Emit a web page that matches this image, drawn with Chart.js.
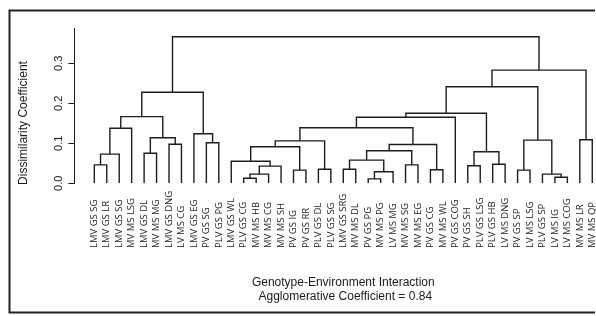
<!DOCTYPE html>
<html>
<head>
<meta charset="utf-8">
<script src="https://cdn.jsdelivr.net/npm/chart.js@4/dist/chart.umd.min.js"></script>
<style>
  html, body { margin: 0; padding: 0; background: #fff; }
</style>
</head>
<body>
<canvas id="chart" width="596" height="316"></canvas>
<script>
'use strict';

// leaves, left to right as they appear under the tree
var leafLabels = [
  'LMV GS SG', 'LMV GS LR', 'LMV GS SG', 'MV MS LSG', 'LMV GS DL', 'MV MS MG',
  'LMV GS DNG', 'LV MS CG', 'LMV GS EG', 'PV GS SG', 'PLV GS PG', 'LMV GS WL',
  'PLV GS CG', 'MV MS HB', 'MV MS CG', 'MV MS SH', 'PV GS IG', 'PV GS RR',
  'PLV GS DL', 'PLV GS SG', 'LMV GS SRG', 'MV MS DL', 'PV GS PG', 'MV MS PG',
  'LV MS MG', 'MV MS SG', 'MV MS EG', 'PV GS CG', 'MV MS WL', 'PV GS COG',
  'PV GS SH', 'PLV GS LSG', 'PLV GS HB', 'LV MS DNG', 'PV GS SP', 'LV MS LSG',
  'PLV GS SP', 'LV MS IG', 'LV MS COG', 'MV MS LR', 'MV MS QP'
];

// merge table like hclust: negative = leaf number, positive = earlier merge step
var merges = [
  [-13, -14], [-23, -24], [-38, -39], [1, -15], [-37, 3],
  [2, -25], [-17, -18], [-28, -29], [-35, -36], [-19, -20],
  [-21, -22], [4, -16], [-31, -32], [-1, -2], [-26, -27],
  [-33, -34], [-12, 12], [11, 6], [14, -3], [-5, -6],
  [13, 16], [18, 15], [17, 7], [22, 8], [-7, -8],
  [-10, -11], [23, 10], [9, 5], [-40, -41], [20, 25],
  [-9, 26], [19, -4], [27, 24], [33, -30], [32, 30],
  [34, 21], [35, 31], [36, 28], [38, 29], [37, 39]
];

var heights = [
  0.0125, 0.011, 0.015, 0.023, 0.023,
  0.029, 0.033, 0.034, 0.033, 0.035,
  0.035, 0.043, 0.044, 0.046, 0.046,
  0.0475, 0.055, 0.058, 0.073, 0.075,
  0.079, 0.0815, 0.0915, 0.097, 0.0975,
  0.1015, 0.106, 0.108, 0.109, 0.114,
  0.124, 0.1375, 0.139, 0.165, 0.1667,
  0.175, 0.2275, 0.2415, 0.283, 0.3665
];

var yTicks = [0, 0.1, 0.2, 0.3];
var yTitle = 'Dissimilarity Coefficient';
var xTitle = 'Genotype-Environment Interaction';
var subTitle = 'Agglomerative Coefficient = 0.84';

var lineColor = '#1c1c1c';
var textColor = '#1a1a1a';

function nodePos(ref, pos) {
  if (ref < 0) {
    return { x: -ref, y: 0 };
  }
  return pos[ref - 1];
}

function segments() {
  var pos = [];
  return merges.map(function(m, i) {
    var a = nodePos(m[0], pos);
    var b = nodePos(m[1], pos);
    var h = heights[i];
    pos.push({ x: (a.x + b.x) / 2, y: h });
    return [
      { x: a.x, y: a.y },
      { x: a.x, y: h },
      { x: b.x, y: h },
      { x: b.x, y: b.y }
    ];
  });
}

var labelsPlugin = {
  id: 'dendroText',
  afterDraw: function(chart) {
    var ctx = chart.ctx;
    var xs = chart.scales.x;
    var ys = chart.scales.y;
    ctx.save();
    ctx.fillStyle = textColor;

    // y tick labels, rotated like base R
    ctx.font = '11px "Liberation Sans", Arial, sans-serif';
    ctx.textAlign = 'center';
    ctx.textBaseline = 'middle';
    yTicks.forEach(function(v) {
      ctx.save();
      ctx.translate(58.5, ys.getPixelForValue(v));
      ctx.rotate(-Math.PI / 2);
      ctx.fillText(v.toFixed(1), 0, 0);
      ctx.restore();
    });

    ctx.font = '12px "Liberation Sans", Arial, sans-serif';
    ctx.save();
    ctx.translate(24, 123);
    ctx.rotate(-Math.PI / 2);
    ctx.fillText(yTitle, 0, 0);
    ctx.restore();

    // leaf labels, bottom aligned
    ctx.font = '9.5px "Open Sans", sans-serif';
    ctx.textAlign = 'left';
    leafLabels.forEach(function(lab, i) {
      ctx.save();
      ctx.translate(xs.getPixelForValue(i + 1), 248);
      ctx.rotate(-Math.PI / 2);
      ctx.fillText(lab, 0, 0);
      ctx.restore();
    });

    var cx = xs.getPixelForValue((leafLabels.length + 1) / 2);
    ctx.font = '12px "Liberation Sans", Arial, sans-serif';
    ctx.textAlign = 'center';
    ctx.fillText(xTitle, cx, 282.5);
    ctx.fillText(subTitle, cx + 2, 297);

    // outer frame
    ctx.strokeStyle = '#222';
    ctx.lineWidth = 2;
    ctx.beginPath();
    ctx.moveTo(595, 10.5);
    ctx.lineTo(9.5, 10.5);
    ctx.lineTo(9.5, 312.5);
    ctx.lineTo(595, 312.5);
    ctx.stroke();
    ctx.restore();
  }
};

var chart = new Chart(document.getElementById('chart').getContext('2d'), {
  type: 'scatter',
  data: {
    datasets: segments().map(function(s) {
      return {
        data: s,
        showLine: true,
        borderColor: lineColor,
        borderWidth: 1.4,
        pointRadius: 0,
        tension: 0,
        fill: false
      };
    })
  },
  options: {
    responsive: false,
    animation: false,
    layout: { padding: { top: 28.3, left: 0, right: 0, bottom: 0 } },
    plugins: {
      legend: { display: false },
      tooltip: { enabled: false }
    },
    scales: {
      x: {
        type: 'linear',
        min: -0.6,
        max: 41.3,
        grid: { display: false },
        border: { display: false },
        ticks: { display: false },
        afterFit: function(s) { s.height = 132.7; }
      },
      y: {
        type: 'linear',
        min: 0,
        max: 0.3875,
        afterBuildTicks: function(s) {
          s.ticks = yTicks.map(function(v) { return { value: v }; });
        },
        grid: {
          drawOnChartArea: false,
          drawTicks: true,
          tickLength: 6,
          color: lineColor,
          lineWidth: 1
        },
        border: { display: true, color: lineColor, width: 1 },
        ticks: { display: false },
        afterFit: function(s) { s.width = 74.4; }
      }
    }
  },
  plugins: [labelsPlugin]
});
</script>
</body>
</html>
